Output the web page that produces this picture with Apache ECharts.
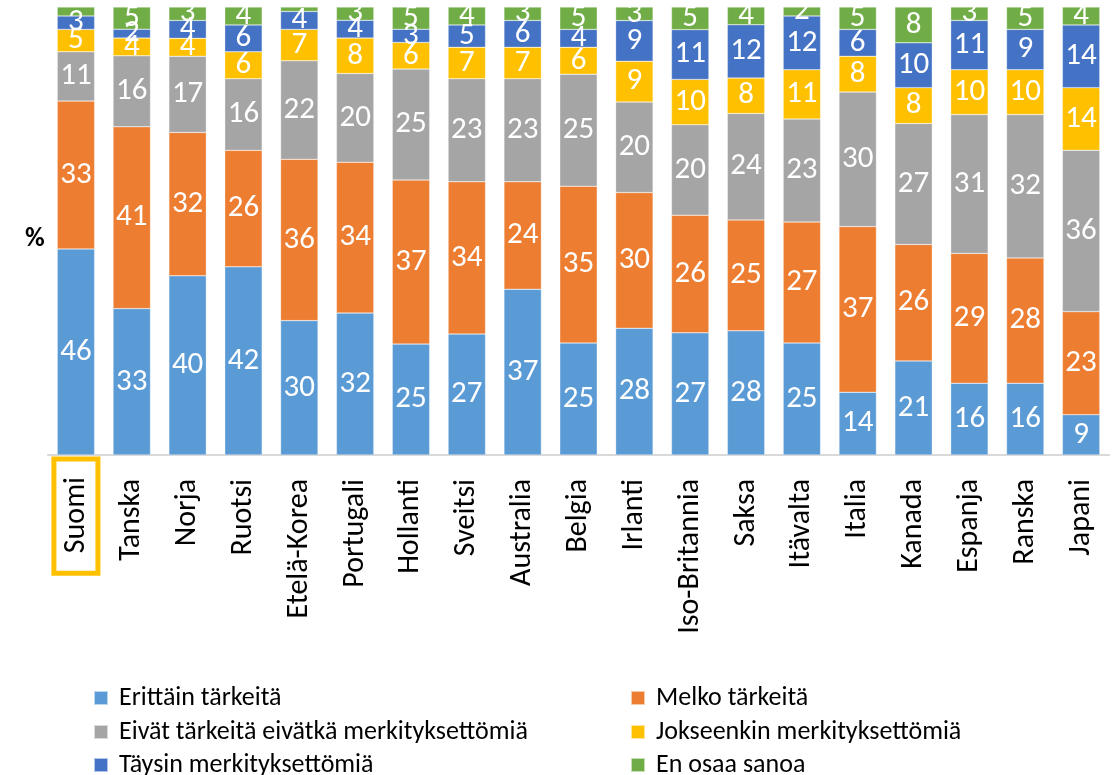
<!DOCTYPE html>
<html>
<head>
<meta charset="utf-8">
<script src="https://cdn.jsdelivr.net/npm/echarts@6/dist/echarts.min.js"></script>
<style>
  html, body { margin: 0; padding: 0; background: #fff; }
  #chart { width: 1114px; height: 775px; }
</style>
</head>
<body>
<div id="chart"></div>
<script>
const countries = ['Suomi', 'Tanska', 'Norja', 'Ruotsi', 'Etelä-Korea', 'Portugali', 'Hollanti', 'Sveitsi', 'Australia', 'Belgia', 'Irlanti', 'Iso-Britannia', 'Saksa', 'Itävalta', 'Italia', 'Kanada', 'Espanja', 'Ranska', 'Japani']

const seriesNames = ['Erittäin tärkeitä', 'Melko tärkeitä', 'Eivät tärkeitä eivätkä merkityksettömiä', 'Jokseenkin merkityksettömiä', 'Täysin merkityksettömiä', 'En osaa sanoa']
const colors = ['#5B9BD5', '#ED7D31', '#A5A5A5', '#FFC000', '#4472C4', '#70AD47']

const erittain   = [46, 33, 40, 42, 30, 32, 25, 27, 37, 25, 28, 27, 28, 25, 14, 21, 16, 16, 9]
const melko      = [33, 41, 32, 26, 36, 34, 37, 34, 24, 35, 30, 26, 25, 27, 37, 26, 29, 28, 23]
const eivat      = [11, 16, 17, 16, 22, 20, 25, 23, 23, 25, 20, 20, 24, 23, 30, 27, 31, 32, 36]
const jokseenkin = [5, 4, 4, 6, 7, 8, 6, 7, 7, 6, 9, 10, 8, 11, 8, 8, 10, 10, 14]
const taysin     = [3, 2, 4, 6, 4, 4, 3, 5, 6, 4, 9, 11, 12, 12, 6, 10, 11, 9, 14]
const enOsaa     = [2, 5, 3, 4, 1, 3, 5, 4, 3, 5, 3, 5, 4, 2, 5, 8, 3, 5, 4]

// green segments too thin to carry a label in the original
const unlabelled = ['Suomi', 'Etelä-Korea']

const raw = [erittain, melko, eivat, jokseenkin, taysin, enOsaa]
const totals = countries.map((c, i) => raw.reduce((s, arr) => s + arr[i], 0))

const font = 'Carlito, "Liberation Sans", sans-serif'

const chart = echarts.init(document.getElementById('chart'))

const series = raw.map((arr, si) => ({
  name: seriesNames[si],
  type: 'bar',
  stack: 'total',
  barWidth: '67%',
  data: arr.map((v, i) => v / totals[i] * 100),
  itemStyle: { color: colors[si], borderColor: 'rgba(255,255,255,0.6)', borderWidth: 0.5 },
  label: {
    show: true,
    position: 'inside',
    color: '#fff',
    fontSize: 31,
    fontFamily: font,
    formatter: p => (si === 5 && unlabelled.includes(p.name)) ? '' : String(arr[p.dataIndex])
  }
}))

// legend: two columns, three rows, one legend per entry so columns line up
const legendCols = [88, 625]
const legendRows = [680, 714, 747]
const legends = seriesNames.map((name, i) => ({
  data: [name],
  left: legendCols[i % 2],
  top: legendRows[Math.floor(i / 2)],
  itemWidth: 14,
  itemHeight: 14,
  icon: 'rect',
  textStyle: { color: '#000', fontSize: 26, fontFamily: font, padding: [0, 0, 0, 6] }
}))

const option = {
  backgroundColor: '#fff',
  animation: false,
  title: {
    text: '%',
    left: 20,
    top: 221,
    textStyle: { color: '#000', fontSize: 27, fontWeight: 'bold', fontFamily: font }
  },
  grid: { left: 48, right: 5, top: 7, bottom: 320 },
  xAxis: {
    type: 'category',
    data: countries,
    axisLine: { lineStyle: { color: '#D9D9D9', width: 2 } },
    axisTick: { show: false },
    axisLabel: {
      rotate: 90,
      interval: 0,
      margin: 4,
      color: '#000',
      fontSize: 30,
      fontFamily: font,
      formatter: v => v === 'Suomi' ? '{box|' + v + '}' : '{plain|' + v + '}',
      rich: {
        plain: {
          fontSize: 30,
          fontFamily: font,
          color: '#000',
          padding: [0, 20, 0, 0]
        },
        box: {
          fontSize: 30,
          fontFamily: font,
          color: '#000',
          borderColor: '#FFC000',
          borderWidth: 5,
          padding: [8, 18, 6, 20]
        }
      }
    }
  },
  yAxis: {
    type: 'value',
    min: 0,
    max: 100,
    axisLabel: { show: false },
    axisLine: { show: false },
    axisTick: { show: false },
    splitLine: { show: false }
  },
  legend: legends,
  series: series
}

chart.setOption(option)
</script>
</body>
</html>
